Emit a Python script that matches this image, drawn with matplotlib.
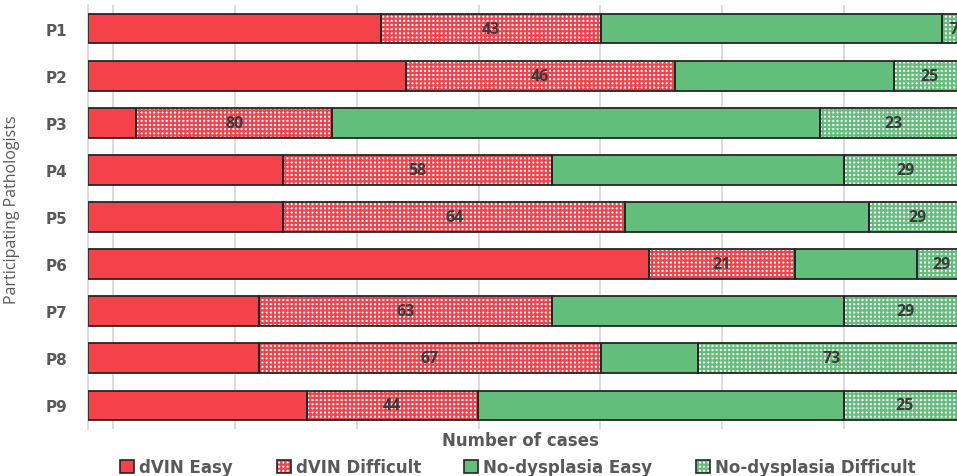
import matplotlib.pyplot as plt
from matplotlib.patches import Patch
from matplotlib.legend_handler import HandlerTuple
import numpy as np

# data (share of each bar)
pathologists = ["P1", "P2", "P3", "P4", "P5", "P6", "P7", "P8", "P9"]
dvin_easy = [33.4, 36.2, 5.5, 22.2, 22.2, 63.9, 19.5, 19.5, 24.9]
dvin_difficult = [25.0, 30.6, 22.3, 30.6, 39.0, 16.6, 33.3, 38.9, 19.5]
nodys_easy = [38.9, 25.0, 55.6, 33.3, 27.8, 13.9, 33.3, 11.1, 41.7]
nodys_difficult = [2.7, 8.2, 16.6, 13.9, 11.0, 5.6, 13.9, 30.5, 13.9]

# printed numbers on the hatched segments
dvin_difficult_labels = ["43", "46", "80", "58", "64", "21", "63", "67", "44"]
nodys_difficult_labels = ["7", "25", "23", "29", "29", "29", "29", "73", "25"]

series_names = ["dVIN Easy", "dVIN Difficult", "No-dysplasia Easy", "No-dysplasia Difficult"]

red = "#F5424A"
green = "#63BE7B"
edge = "#262626"
grey_txt = "#595959"
wide = ["DejaVu Sans"]
narrow = ["Open Sans", "DejaVu Sans"]

plt.rcParams["font.family"] = narrow
plt.rcParams["hatch.linewidth"] = 1.5

fig = plt.figure(figsize=(9.57, 4.77), dpi=100)
ax = fig.add_axes([88 / 957, 1 - 430 / 477, 878 / 957, 424 / 477])

y = np.arange(len(pathologists))
h = 0.63

segments = [
    (dvin_easy, red, None),
    (dvin_difficult, red, "++++"),
    (nodys_easy, green, None),
    (nodys_difficult, green, "++++"),
]

left = np.zeros(len(pathologists))
lefts = []
for vals, col, hatch in segments:
    vals = np.array(vals)
    if hatch:
        ax.barh(y, vals, h, left=left, color="white", edgecolor=col, hatch=hatch, linewidth=0, zorder=2)
    else:
        ax.barh(y, vals, h, left=left, color=col, linewidth=0, zorder=2)
    ax.barh(y, vals, h, left=left, fill=False, edgecolor=edge, linewidth=1.3, zorder=3)
    lefts.append(left.copy())
    left = left + vals

# labels on the difficult segments
for i in range(len(pathologists)):
    cx = lefts[1][i] + dvin_difficult[i] / 2
    ax.text(cx, y[i], dvin_difficult_labels[i], ha="center", va="center",
            fontsize=11.5, fontweight="bold", color="#3a3a3a", zorder=4)
    cx = lefts[3][i] + nodys_difficult[i] / 2
    ax.text(cx, y[i], nodys_difficult_labels[i], ha="center", va="center",
            fontsize=11.5, fontweight="bold", color="#3a3a3a", zorder=4)

ax.set_xlim(0, 100)
ax.set_ylim(len(pathologists) - 0.5, -0.5)

grid_step = 13.88
ax.set_xticks(np.arange(100, 0, -grid_step))
ax.set_xticklabels([])
ax.grid(axis="x", color="#d9d9d9", linewidth=1.3, zorder=0)
ax.set_axisbelow(True)

ax.set_yticks(y)
ax.set_yticklabels(pathologists, fontsize=11, fontweight="bold", color=grey_txt, family=wide)
ax.tick_params(axis="both", length=0)
ax.tick_params(axis="y", pad=15)

for s in ["top", "right", "bottom"]:
    ax.spines[s].set_visible(False)
ax.spines["left"].set_color("#d9d9d9")
ax.spines["left"].set_linewidth(1.3)

ax.set_ylabel("Participating Pathologists", fontsize=11.5, color=grey_txt)
ax.yaxis.set_label_coords(-68 / 878, 0.519)
ax.set_xlabel("Number of cases", fontsize=12, fontweight="bold", color=grey_txt, family=wide)
ax.xaxis.set_label_coords(0.492, -2 / 424)

outline = Patch(facecolor="none", edgecolor=edge, linewidth=1.2)
handles = [
    Patch(facecolor=red, edgecolor=edge, linewidth=1.2),
    (Patch(facecolor="white", edgecolor=red, hatch="++++", linewidth=0), outline),
    Patch(facecolor=green, edgecolor=edge, linewidth=1.2),
    (Patch(facecolor="white", edgecolor=green, hatch="++++", linewidth=0), outline),
]
leg = fig.legend(handles, series_names, loc="center", bbox_to_anchor=(518 / 957, 9 / 477),
                 ncol=4, frameon=False, handlelength=0.85, handleheight=0.85,
                 handletextpad=0.3, columnspacing=2.6, borderaxespad=0,
                 handler_map={tuple: HandlerTuple(ndivide=1)},
                 prop={"family": wide, "weight": "bold", "size": 12})
for t in leg.get_texts():
    t.set_color(grey_txt)

fig.savefig("out.png", dpi=100)
